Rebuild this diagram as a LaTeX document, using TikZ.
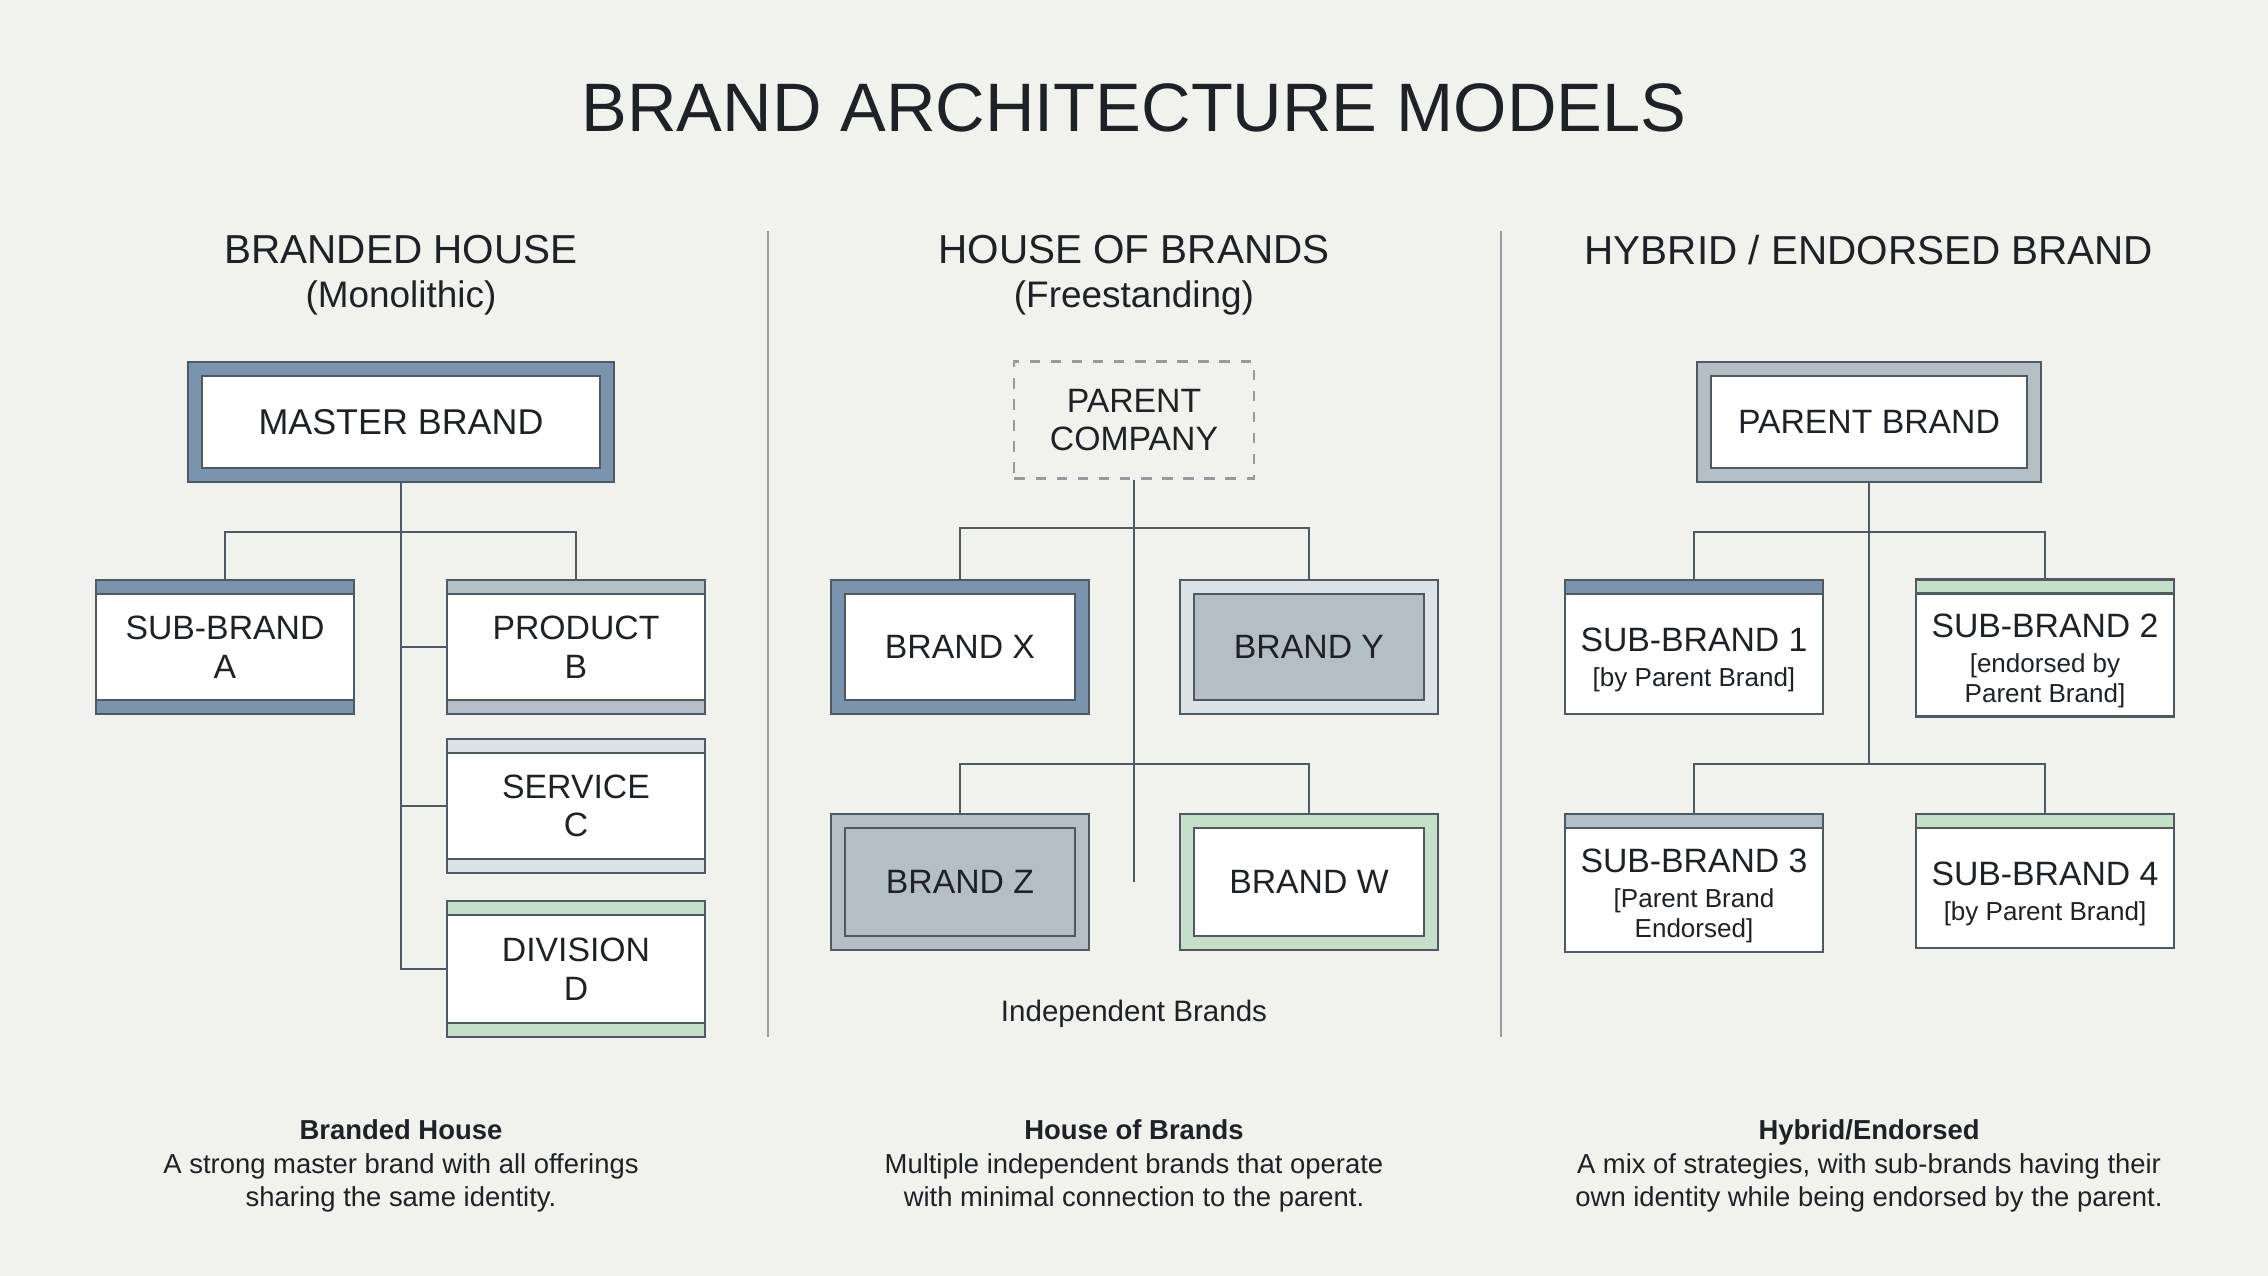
\documentclass[tikz,border=0pt]{standalone}
\usepackage{fontspec}
\setmainfont{Liberation Sans}
\usetikzlibrary{positioning}
\definecolor{paper}{HTML}{F1F1ED}
\definecolor{ink}{HTML}{1E2226}
\definecolor{linegray}{HTML}{4E5962}
\definecolor{steel}{HTML}{7A94AD}
\definecolor{slate}{HTML}{B4BEC6}
\definecolor{mist}{HTML}{DCE3E6}
\definecolor{sage}{HTML}{C4E0C8}
\newcommand{\bytext}{\fontsize{7.4}{8.4}\selectfont}
\newcommand{\padtop}{\rule{0pt}{14pt}}

\begin{document}
\begin{tikzpicture}[x=0.01cm,y=-0.01cm,line width=0.6pt,text=ink]
        \tikzstyle{conn}=[draw=linegray,line width=0.7pt]
        \tikzstyle{box}=[draw=linegray, fill=white, minimum width=2.57cm, minimum height=1.34cm, inner sep=0pt, align=center, font=\fontsize{9.6}{11}\selectfont]
        \tikzstyle{topband}=[box, path picture={
            \fill[#1] (path picture bounding box.north west) rectangle ([yshift=-0.14cm]path picture bounding box.north east);
            \draw[linegray] ([yshift=-0.14cm]path picture bounding box.north west) -- ([yshift=-0.14cm]path picture bounding box.north east);}]
        \tikzstyle{bands}=[box, path picture={
            \fill[#1] (path picture bounding box.north west) rectangle ([yshift=-0.14cm]path picture bounding box.north east);
            \draw[linegray] ([yshift=-0.14cm]path picture bounding box.north west) -- ([yshift=-0.14cm]path picture bounding box.north east);
            \fill[#1] (path picture bounding box.south west) rectangle ([yshift=0.14cm]path picture bounding box.south east);
            \draw[linegray] ([yshift=0.14cm]path picture bounding box.south west) -- ([yshift=0.14cm]path picture bounding box.south east);}]
        \tikzset{framed/.style 2 args={box, fill=#1, path picture={
            \draw[linegray,fill=#2] ([shift={(0.14cm,-0.14cm)}]path picture bounding box.north west) rectangle ([shift={(-0.14cm,0.14cm)}]path picture bounding box.south east);}}}
        \tikzstyle{head}=[font=\fontsize{11.5}{13}\selectfont]
        \tikzstyle{sub}=[font=\fontsize{10.5}{12}\selectfont]
        \tikzstyle{note}=[font=\fontsize{7.8}{9.6}\selectfont, align=center]

        % Background and title
        \fill[paper] (0,0) rectangle (2268,1276);
        \node[font=\fontsize{19.5}{22}\selectfont] (title) at (1134,108) {BRAND ARCHITECTURE MODELS};
        \draw[linegray!60,line width=0.8pt] (768,231) -- (768,1037);
        \draw[linegray!60,line width=0.8pt] (1501,231) -- (1501,1037);

        % Branded house
        \node[head] (h1) at (401,250) {BRANDED HOUSE};
        \node[sub] (s1) at (401,298) {(Monolithic)};
        \node[framed={steel}{white}, minimum width=4.25cm, minimum height=1.2cm, font=\fontsize{10.2}{12}\selectfont] (mb) at (401,422) {MASTER BRAND};
        \node[bands=steel] (sa) at (225,647) {SUB-BRAND\\A};
        \node[bands=slate] (pb) at (576,647) {PRODUCT\\B};
        \node[bands=mist] (sc) at (576,806) {SERVICE\\C};
        \node[bands=sage, minimum height=1.36cm] (dd) at (576,969) {DIVISION\\D};
        \coordinate (j1) at (401,532);
        \draw[conn] (mb.south) |- (dd.west);
        \draw[conn] (sa.north) |- (j1) -| (pb.north);
        \draw[conn] (mb.south |- pb.west) -- (pb.west);
        \draw[conn] (mb.south |- sc.west) -- (sc.west);
        \node[note] (n1) at (401,1166) {\textbf{Branded House}\\A strong master brand with all offerings\\sharing the same identity.};

        % House of brands
        \node[head] (h2) at (1134,250) {HOUSE OF BRANDS};
        \node[sub] (s2) at (1134,298) {(Freestanding)};
        \node[box, draw=linegray!60, dashed, fill=none, minimum width=2.39cm, minimum height=1.17cm] (pc) at (1134,420) {PARENT\\COMPANY};
        \node[framed={steel}{white}] (bx) at (960,647) {BRAND X};
        \node[framed={mist}{slate}] (by) at (1309,647) {BRAND Y};
        \node[framed={slate}{slate}, minimum height=1.36cm] (bz) at (960,882) {BRAND Z};
        \node[framed={sage}{white}, minimum height=1.36cm] (bw) at (1309,882) {BRAND W};
        \coordinate (j2) at (1134,528);
        \coordinate (j3) at (1134,764);
        \coordinate (t2) at (1134,882);
        \draw[conn] (pc.south) -- (t2);
        \draw[conn] (bx.north) |- (j2) -| (by.north);
        \draw[conn] (bz.north) |- (j3) -| (bw.north);
        \node[font=\fontsize{8.4}{10}\selectfont] (ib) at (1134,1014) {Independent Brands};
        \node[note] (n2) at (1134,1166) {\textbf{House of Brands}\\Multiple independent brands that operate\\with minimal connection to the parent.};

        % Hybrid / endorsed
        \node[head] (h3) at (1869,250) {HYBRID / ENDORSED BRAND};
        \node[framed={slate}{white}, minimum width=3.44cm, minimum height=1.2cm] (pb3) at (1869,422) {PARENT BRAND};
        \node[topband=steel] (sb1) at (1694,647) {\padtop SUB-BRAND 1\\[-1pt]\bytext [by Parent Brand]};
        \node[topband=sage, minimum height=1.37cm] (sb2) at (2045,648) {\padtop SUB-BRAND 2\\[-1pt]\bytext [endorsed by\\[-2.5pt]\bytext Parent Brand]};
        \node[topband=slate, minimum height=1.38cm] (sb3) at (1694,883) {\padtop SUB-BRAND 3\\[-1pt]\bytext [Parent Brand\\[-2.5pt]\bytext Endorsed]};
        \node[topband=sage] (sb4) at (2045,881) {\padtop SUB-BRAND 4\\[-1pt]\bytext [by Parent Brand]};
        \coordinate (j4) at (1869,532);
        \coordinate (j5) at (1869,764);
        \draw[conn] (pb3.south) -- (j5);
        \draw[conn] (sb1.north) |- (j4) -| (sb2.north);
        \draw[conn] (sb3.north) |- (j5) -| (sb4.north);
        \node[note] (n3) at (1869,1166) {\textbf{Hybrid/Endorsed}\\A mix of strategies, with sub-brands having their\\own identity while being endorsed by the parent.};
\end{tikzpicture}
\end{document}
